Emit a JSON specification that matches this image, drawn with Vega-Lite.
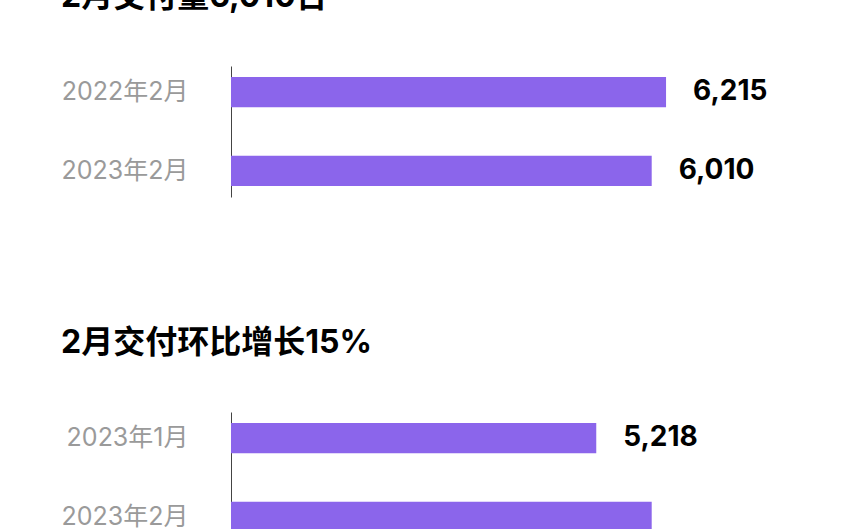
{
  "$schema": "https://vega.github.io/schema/vega-lite/v6.json",
  "background": "white",
  "padding": {"left": 61, "top": -19, "right": 0, "bottom": 0},
  "spacing": 130,
  "config": {
    "view": {"stroke": null},
    "font": "Inter, Noto Sans CJK SC"
  },
  "datasets": {
    "yoy": [
      {"month": "2022年2月", "value": 6215, "label": "6,215"},
      {"month": "2023年2月", "value": 6010, "label": "6,010"}
    ],
    "mom": [
      {"month": "2023年1月", "value": 5218, "label": "5,218"},
      {"month": "2023年2月", "value": 6010, "label": null}
    ]
  },
  "vconcat": [
    {
      "title": {"text": "2月交付量6,010台", "anchor": "start", "frame": "bounds", "fontSize": 32, "fontWeight": "bold", "color": "#000", "offset": 52, "font": "Inter, Noto Sans CJK SC"},
      "data": {"name": "yoy"},
      "width": 560,
      "height": 131,
      "encoding": {
        "y": {"field": "month", "type": "nominal", "sort": null,
          "scale": {"paddingInner": 0.618, "paddingOuter": 0.14},
          "axis": {"title": null, "domainColor": "#444", "domainWidth": 1, "ticks": false, "grid": false, "labelFontSize": 25, "labelColor": "#9a9a9a", "labelPadding": 43, "labelFont": "Inter, Noto Sans CJK SC"}},
        "x": {"field": "value", "type": "quantitative", "scale": {"domain": [0, 8000]}, "axis": null}
      },
      "layer": [
        {"mark": {"type": "bar", "color": "#8B65EB"}},
        {"transform": [{"filter": "datum.label != null"}],
          "mark": {"type": "text", "align": "left", "baseline": "middle", "dx": 27, "fontSize": 28, "fontWeight": "bold", "color": "#000"},
          "encoding": {"text": {"field": "label"}}}
      ]
    },
    {
      "title": {"text": "2月交付环比增长15%", "anchor": "start", "frame": "bounds", "fontSize": 32, "fontWeight": "bold", "color": "#000", "offset": 52, "font": "Inter, Noto Sans CJK SC"},
      "data": {"name": "mom"},
      "width": 560,
      "height": 131,
      "encoding": {
        "y": {"field": "month", "type": "nominal", "sort": null,
          "scale": {"paddingInner": 0.618, "paddingOuter": 0.14},
          "axis": {"title": null, "domainColor": "#444", "domainWidth": 1, "ticks": false, "grid": false, "labelFontSize": 25, "labelColor": "#9a9a9a", "labelPadding": 43, "labelFont": "Inter, Noto Sans CJK SC"}},
        "x": {"field": "value", "type": "quantitative", "scale": {"domain": [0, 8000]}, "axis": null}
      },
      "layer": [
        {"mark": {"type": "bar", "color": "#8B65EB"}},
        {"transform": [{"filter": "datum.label != null"}],
          "mark": {"type": "text", "align": "left", "baseline": "middle", "dx": 27, "fontSize": 28, "fontWeight": "bold", "color": "#000"},
          "encoding": {"text": {"field": "label"}}}
      ]
    }
  ]
}
